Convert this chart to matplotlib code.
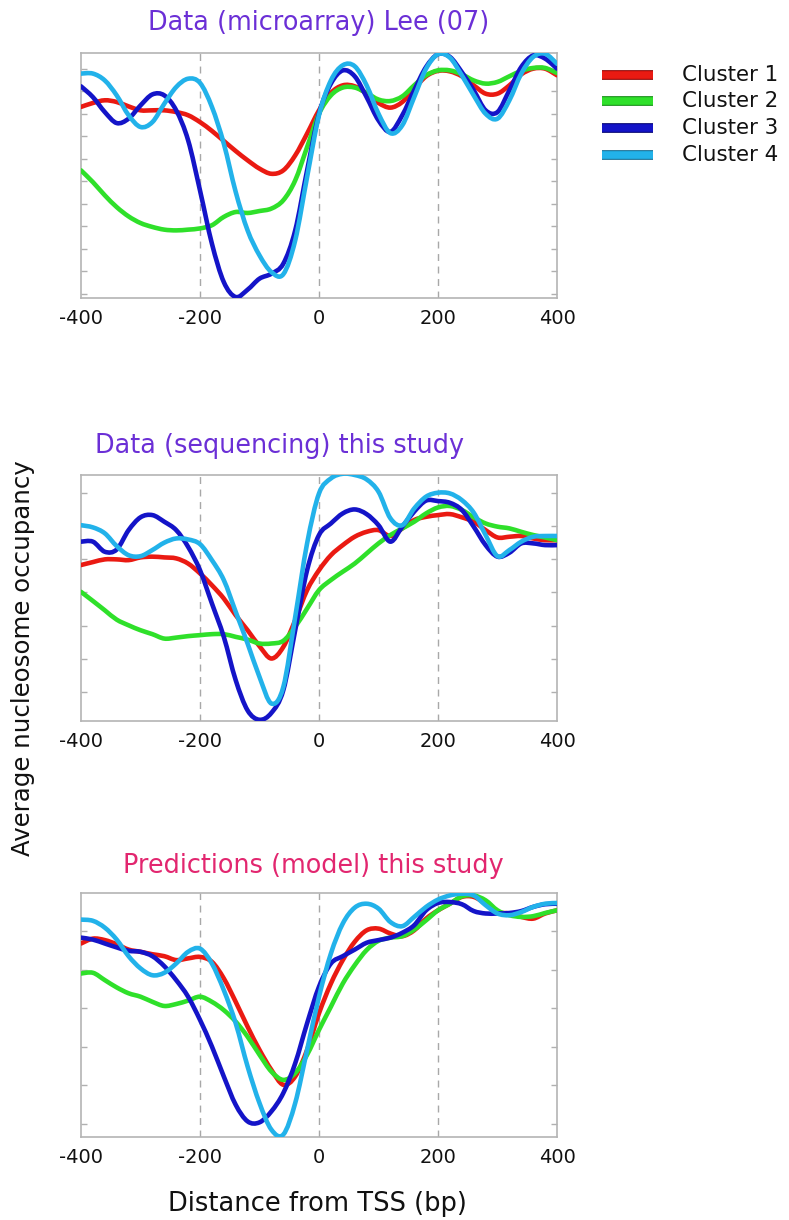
import numpy as np
import matplotlib
matplotlib.use("Agg")
import matplotlib.pyplot as plt
import matplotlib.patheffects as pe
from matplotlib.path import Path
from matplotlib.patches import PathPatch
from matplotlib.lines import Line2D

# ---------------- data ----------------
positions = list(range(-400, 401, 20))  # distance from TSS (bp)

cluster_names = ["Cluster 1", "Cluster 2", "Cluster 3", "Cluster 4"]
cluster_colors = ["#ea1a12", "#2fe02a", "#1414c8", "#22b2ea"]
legend_edges = ["#8a0000", "#108a10", "#000070", "#106a90"]

panel_titles = ["Data (microarray) Lee (07)",
                "Data (sequencing) this study",
                "Predictions (model) this study"]
title_colors = ["#6b2fd6", "#6b2fd6", "#e2266f"]

xtick_values = [-400, -200, 0, 200, 400]
guide_lines = [-200, 0, 200]

# Panel 1: microarray (Lee 07)
lee_c1 = [0.780, 0.796, 0.807, 0.800, 0.782, 0.766, 0.766, 0.766, 0.759, 0.746, 0.718,
          0.682, 0.641, 0.600, 0.562, 0.528, 0.507, 0.521, 0.582, 0.671, 0.766,
          0.837, 0.868, 0.864, 0.834, 0.796, 0.777, 0.800, 0.854, 0.905, 0.927,
          0.925, 0.905, 0.868, 0.834, 0.834, 0.868, 0.913, 0.936, 0.936, 0.909]
lee_c2 = [0.521, 0.473, 0.419, 0.371, 0.333, 0.306, 0.290, 0.279, 0.276, 0.279, 0.284,
          0.297, 0.331, 0.351, 0.347, 0.355, 0.365, 0.399, 0.480, 0.616, 0.752,
          0.827, 0.859, 0.859, 0.837, 0.810, 0.804, 0.823, 0.868, 0.909, 0.929,
          0.929, 0.913, 0.888, 0.875, 0.882, 0.905, 0.927, 0.939, 0.939, 0.918]
lee_c3 = [0.864, 0.820, 0.759, 0.714, 0.732, 0.786, 0.831, 0.827, 0.766, 0.644, 0.439,
          0.222, 0.065, 0.004, 0.034, 0.079, 0.099, 0.140, 0.276, 0.521, 0.752,
          0.875, 0.929, 0.905, 0.820, 0.725, 0.678, 0.746, 0.848, 0.943, 0.995,
          0.984, 0.922, 0.848, 0.766, 0.759, 0.848, 0.943, 0.990, 0.977, 0.936]
lee_c4 = [0.916, 0.916, 0.888, 0.827, 0.746, 0.698, 0.718, 0.793, 0.861, 0.895, 0.878,
          0.780, 0.630, 0.433, 0.276, 0.174, 0.106, 0.097, 0.235, 0.494, 0.746,
          0.888, 0.950, 0.946, 0.868, 0.752, 0.673, 0.705, 0.820, 0.936, 0.995,
          0.981, 0.909, 0.827, 0.752, 0.732, 0.807, 0.916, 0.984, 0.997, 0.956]

# Panel 2: sequencing (this study)
seq_c1 = [0.634, 0.646, 0.657, 0.657, 0.654, 0.665, 0.668, 0.665, 0.661, 0.640, 0.600,
          0.552, 0.498, 0.430, 0.369, 0.304, 0.254, 0.301, 0.410, 0.532, 0.613,
          0.674, 0.715, 0.749, 0.769, 0.776, 0.752, 0.783, 0.817, 0.830, 0.837,
          0.841, 0.828, 0.810, 0.776, 0.746, 0.749, 0.752, 0.742, 0.735, 0.735]
seq_c2 = [0.525, 0.488, 0.450, 0.412, 0.389, 0.369, 0.353, 0.335, 0.339, 0.345, 0.349,
          0.353, 0.353, 0.342, 0.331, 0.315, 0.315, 0.326, 0.383, 0.457, 0.532,
          0.573, 0.607, 0.640, 0.681, 0.722, 0.756, 0.783, 0.810, 0.844, 0.868,
          0.874, 0.858, 0.828, 0.803, 0.790, 0.783, 0.769, 0.756, 0.746, 0.735]
seq_c3 = [0.729, 0.729, 0.688, 0.697, 0.776, 0.828, 0.837, 0.810, 0.776, 0.708, 0.613,
          0.478, 0.342, 0.166, 0.043, 0.005, 0.033, 0.125, 0.369, 0.613, 0.756,
          0.803, 0.844, 0.860, 0.841, 0.796, 0.729, 0.790, 0.851, 0.896, 0.894,
          0.887, 0.858, 0.790, 0.715, 0.668, 0.684, 0.722, 0.722, 0.715, 0.715]
seq_c4 = [0.796, 0.787, 0.763, 0.711, 0.674, 0.670, 0.695, 0.725, 0.742, 0.738, 0.719,
          0.654, 0.573, 0.444, 0.315, 0.179, 0.071, 0.138, 0.423, 0.722, 0.925,
          0.986, 1.005, 1.000, 0.982, 0.932, 0.824, 0.796, 0.864, 0.912, 0.928,
          0.925, 0.898, 0.847, 0.756, 0.670, 0.695, 0.729, 0.749, 0.752, 0.752]

# Panel 3: model predictions (this study)
mod_c1 = [0.793, 0.813, 0.807, 0.790, 0.768, 0.759, 0.749, 0.741, 0.725, 0.732, 0.738,
          0.718, 0.650, 0.554, 0.452, 0.357, 0.275, 0.214, 0.248, 0.357, 0.507,
          0.629, 0.725, 0.800, 0.847, 0.854, 0.834, 0.823, 0.847, 0.895, 0.929,
          0.956, 0.984, 0.984, 0.956, 0.922, 0.916, 0.902, 0.895, 0.916, 0.929]
mod_c2 = [0.670, 0.673, 0.643, 0.613, 0.589, 0.575, 0.554, 0.537, 0.545, 0.559, 0.575,
          0.554, 0.520, 0.473, 0.411, 0.337, 0.268, 0.234, 0.262, 0.337, 0.439,
          0.534, 0.629, 0.704, 0.766, 0.804, 0.817, 0.823, 0.850, 0.888, 0.929,
          0.956, 0.986, 0.990, 0.970, 0.929, 0.909, 0.902, 0.905, 0.918, 0.929]
mod_c3 = [0.817, 0.809, 0.793, 0.777, 0.763, 0.759, 0.741, 0.700, 0.643, 0.575, 0.480,
          0.371, 0.248, 0.132, 0.064, 0.060, 0.105, 0.180, 0.302, 0.466, 0.616,
          0.711, 0.741, 0.768, 0.796, 0.807, 0.817, 0.837, 0.868, 0.929, 0.959,
          0.963, 0.954, 0.926, 0.916, 0.916, 0.918, 0.926, 0.943, 0.954, 0.956]
mod_c4 = [0.891, 0.886, 0.858, 0.809, 0.741, 0.691, 0.663, 0.673, 0.711, 0.759, 0.772,
          0.711, 0.602, 0.466, 0.289, 0.139, 0.030, 0.010, 0.139, 0.357, 0.575,
          0.752, 0.875, 0.940, 0.956, 0.936, 0.881, 0.864, 0.902, 0.943, 0.973,
          0.990, 0.997, 0.990, 0.950, 0.916, 0.909, 0.922, 0.943, 0.956, 0.959]

panel_series = [[lee_c1, lee_c2, lee_c3, lee_c4],
                [seq_c1, seq_c2, seq_c3, seq_c4],
                [mod_c1, mod_c2, mod_c3, mod_c4]]

# y tick positions (arbitrary occupancy units, unlabeled)
panel_yticks = [np.arange(0.018, 1.0, 0.0918),
                np.arange(0.119, 1.0, 0.1345),
                np.arange(0.054, 1.0, 0.158)]


def smooth_path(xs, ys):
    """Catmull-Rom curve through the read points, drawn as cubic Bezier segments."""
    pts = np.column_stack([xs, ys]).astype(float)
    n = len(pts)
    verts = [pts[0]]
    codes = [Path.MOVETO]
    for k in range(n - 1):
        p0 = pts[k - 1] if k > 0 else pts[k]
        p1 = pts[k]
        p2 = pts[k + 1]
        p3 = pts[k + 2] if k + 2 < n else pts[k + 1]
        c1 = p1 + (p2 - p0) / 6.0
        c2 = p2 - (p3 - p1) / 6.0
        verts += [c1, c2, p2]
        codes += [Path.CURVE4] * 3
    return Path(verts, codes)


# ---------------- layout ----------------
W, H = 789, 1220
fig = plt.figure(figsize=(W / 100, H / 100), dpi=100)
plt.rcParams['font.family'] = ['DejaVu Sans']

# axes boxes in pixels: (left, top, right, bottom)
boxes = [(81, 53, 557, 298), (81, 475, 557, 721), (81, 893, 557, 1137)]
title_pos = [(319, 23), (280, 446), (313, 866)]

axes = []
for i, (l, t, r, b) in enumerate(boxes):
    ax = fig.add_axes([l / W, 1 - b / H, (r - l) / W, (b - t) / H])
    axes.append(ax)
    for j, ys in enumerate(panel_series[i]):
        patch = PathPatch(smooth_path(positions, ys), facecolor='none',
                          edgecolor=cluster_colors[j], lw=3.3, zorder=3 + j,
                          capstyle='round', joinstyle='round')
        ax.add_patch(patch)
    for g in guide_lines:
        ax.axvline(g, color='#a8a8a8', lw=1.0, ls=(0, (5, 4)), zorder=1)
    ax.set_xlim(-400, 400)
    ax.set_ylim(0, 1)
    ax.set_xticks(xtick_values)
    ax.set_xticklabels([str(v) for v in xtick_values], fontsize=14, color='#111111')
    ax.tick_params(axis='x', length=0, pad=8)
    ax.set_yticks(panel_yticks[i])
    ax.set_yticklabels([])
    ax.tick_params(axis='y', direction='in', length=4, color='#b0b0b0',
                   left=True, right=True, width=1)
    for s in ax.spines.values():
        s.set_color('#b4b4b4')
        s.set_linewidth(1.2)
    tx, ty = title_pos[i]
    fig.text(tx / W, 1 - ty / H, panel_titles[i], color=title_colors[i],
             fontsize=18.4, ha='center', va='center')

# y label and x label
fig.text(23 / W, 1 - 658 / H, "Average nucleosome occupancy", rotation=90,
         fontsize=17.6, ha='center', va='center', color='#111111')
fig.text(317 / W, 1 - 1204 / H, "Distance from TSS (bp)", fontsize=18.5,
         ha='center', va='center', color='#111111')

# legend (drawn row by row)
legend_rows_y = [75, 101, 128, 155]
for j in range(4):
    yy = 1 - legend_rows_y[j] / H
    ln = Line2D([602 / W, 653 / W], [yy, yy], transform=fig.transFigure,
                color=cluster_colors[j], lw=5.5, solid_capstyle='butt',
                path_effects=[pe.Stroke(linewidth=7, foreground=legend_edges[j]),
                              pe.Normal()])
    fig.add_artist(ln)
    fig.text(682 / W, yy, cluster_names[j], fontsize=15.4, ha='left', va='center',
             color='#111111')

fig.savefig("out.png", dpi=100)
